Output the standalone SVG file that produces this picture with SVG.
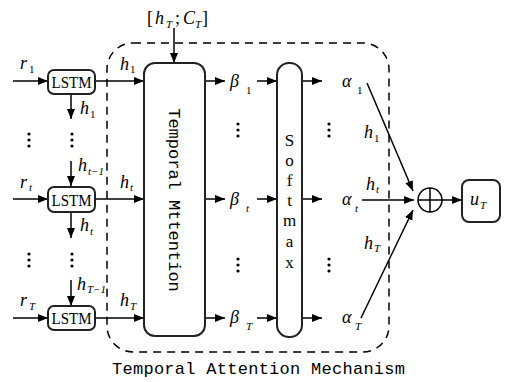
<svg xmlns="http://www.w3.org/2000/svg" width="506" height="382" viewBox="0 0 506 382">
<defs>
<marker id="ah" viewBox="0 0 10 10" refX="10" refY="5" markerWidth="10" markerHeight="10" markerUnits="userSpaceOnUse" orient="auto"><path d="M0,1 L10,5 L0,9 z" fill="#000"/></marker>
<style>
.ln{stroke:#000;stroke-width:1.5;fill:none}
.ar{stroke:#000;stroke-width:1.5;fill:none;marker-end:url(#ah)}
.box{stroke:#222;stroke-width:2;fill:#fff}
.it{font-family:"Liberation Serif",serif;font-style:italic;font-size:18px;fill:#000}
.sb{font-family:"Liberation Serif",serif;font-style:italic;font-size:11px;fill:#000}
.sbn{font-family:"Liberation Serif",serif;font-size:11px;fill:#000}
.lstm{font-family:"Liberation Serif",serif;font-size:16px;fill:#000}
.mono{font-family:"Liberation Mono",monospace;font-size:17px;fill:#000}
.dot{fill:#000}
</style>
</defs>
<rect width="506" height="382" fill="#fff"/>
<g id="frame">
<rect x="107" y="43" width="282" height="309" rx="26" ry="26" fill="none" stroke="#000" stroke-width="1.5" stroke-dasharray="8,6"/>
<text class="mono" x="112" y="374" textLength="293">Temporal Attention Mechanism</text>
</g>
<g id="connectors">
<line class="ar" x1="13" y1="81" x2="48" y2="81"/>
<line class="ar" x1="13" y1="199" x2="48" y2="199"/>
<line class="ar" x1="13" y1="318" x2="48" y2="318"/>
<line class="ar" x1="71" y1="94" x2="71" y2="119"/>
<line class="ar" x1="71" y1="161" x2="71" y2="186"/>
<line class="ar" x1="71" y1="213" x2="71" y2="238"/>
<line class="ar" x1="71" y1="280" x2="71" y2="306"/>
<line class="ar" x1="95" y1="81" x2="144" y2="81"/>
<line class="ar" x1="95" y1="199" x2="144" y2="199"/>
<line class="ar" x1="95" y1="318" x2="144" y2="318"/>
<line class="ar" x1="174" y1="28" x2="174" y2="63"/>
<line class="ar" x1="205" y1="81" x2="225" y2="81"/>
<line class="ar" x1="205" y1="199" x2="225" y2="199"/>
<line class="ar" x1="205" y1="318" x2="225" y2="318"/>
<line class="ar" x1="257" y1="81" x2="277" y2="81"/>
<line class="ar" x1="257" y1="199" x2="277" y2="199"/>
<line class="ar" x1="257" y1="318" x2="277" y2="318"/>
<line class="ar" x1="302" y1="81" x2="322" y2="81"/>
<line class="ar" x1="302" y1="199" x2="322" y2="199"/>
<line class="ar" x1="302" y1="318" x2="322" y2="318"/>
<line class="ar" x1="367" y1="83" x2="413" y2="191"/>
<line class="ar" x1="362" y1="200" x2="414" y2="200"/>
<line class="ar" x1="361" y1="318" x2="413" y2="210"/>
<line class="ar" x1="442" y1="200" x2="462" y2="200"/>
</g>
<g id="dots">
<circle class="dot" cx="29" cy="134" r="1.6"/><circle class="dot" cx="29" cy="140" r="1.6"/><circle class="dot" cx="29" cy="146" r="1.6"/>
<circle class="dot" cx="72" cy="134" r="1.6"/><circle class="dot" cx="72" cy="140" r="1.6"/><circle class="dot" cx="72" cy="146" r="1.6"/>
<circle class="dot" cx="29" cy="254" r="1.6"/><circle class="dot" cx="29" cy="260" r="1.6"/><circle class="dot" cx="29" cy="266" r="1.6"/>
<circle class="dot" cx="72" cy="254" r="1.6"/><circle class="dot" cx="72" cy="260" r="1.6"/><circle class="dot" cx="72" cy="266" r="1.6"/>
<circle class="dot" cx="238" cy="124" r="1.6"/><circle class="dot" cx="238" cy="130" r="1.6"/><circle class="dot" cx="238" cy="136" r="1.6"/>
<circle class="dot" cx="238" cy="259" r="1.6"/><circle class="dot" cx="238" cy="265" r="1.6"/><circle class="dot" cx="238" cy="271" r="1.6"/>
<circle class="dot" cx="329" cy="124" r="1.6"/><circle class="dot" cx="329" cy="130" r="1.6"/><circle class="dot" cx="329" cy="136" r="1.6"/>
<circle class="dot" cx="329" cy="259" r="1.6"/><circle class="dot" cx="329" cy="265" r="1.6"/><circle class="dot" cx="329" cy="271" r="1.6"/>
</g>
<g id="lstm1">
<rect class="box" x="48" y="70" width="47" height="24" rx="6"/>
<text class="lstm" x="51.5" y="88" textLength="40" lengthAdjust="spacingAndGlyphs">LSTM</text>
</g>
<g id="lstm2">
<rect class="box" x="48" y="187" width="47" height="25" rx="6"/>
<text class="lstm" x="51.5" y="205.5" textLength="40" lengthAdjust="spacingAndGlyphs">LSTM</text>
</g>
<g id="lstm3">
<rect class="box" x="48" y="306" width="47" height="24" rx="6"/>
<text class="lstm" x="51.5" y="324" textLength="40" lengthAdjust="spacingAndGlyphs">LSTM</text>
</g>
<g id="temporal-attention">
<rect class="box" x="144" y="63" width="61" height="273" rx="11"/>
<text class="mono" font-size="16" transform="translate(169,200) rotate(90)" text-anchor="middle">Temporal Mttention</text>
</g>
<g id="softmax">
<rect class="box" x="277" y="63" width="25" height="274" rx="12"/>
<g font-family="Liberation Serif,serif" font-size="17" text-anchor="middle">
<text x="289.5" y="146">S</text><text x="289.5" y="166">o</text><text x="289.5" y="186">f</text><text x="289.5" y="206">t</text><text x="289.5" y="226">m</text><text x="289.5" y="247">a</text><text x="289.5" y="268">x</text>
</g>
</g>
<g id="sum">
<circle cx="430" cy="200" r="12" fill="#fff" stroke="#000" stroke-width="1.5"/>
<line class="ln" x1="418" y1="200" x2="442" y2="200"/>
<line class="ln" x1="430" y1="188" x2="430" y2="212"/>
</g>
<g id="uT">
<rect class="box" x="462" y="180" width="38" height="42" rx="7"/>
<text class="it" x="470" y="205">u</text><text class="sb" x="480" y="209">T</text>
</g>
<g id="labels">
<text class="it" x="20" y="69">r</text><text class="sbn" x="29" y="73">1</text>
<text class="it" x="20" y="188">r</text><text class="sb" x="29" y="191">t</text>
<text class="it" x="20" y="306">r</text><text class="sb" x="29" y="310">T</text>
<text class="it" x="80" y="114">h</text><text class="sbn" x="90" y="118">1</text>
<text class="it" x="78" y="171">h</text><text class="sb" x="88" y="175">t−1</text>
<text class="it" x="80" y="231">h</text><text class="sb" x="90" y="235">t</text>
<text class="it" x="77" y="290">h</text><text class="sb" x="87" y="293">T−1</text>
<text class="it" x="120" y="70">h</text><text class="sbn" x="130" y="73">1</text>
<text class="it" x="120" y="188">h</text><text class="sb" x="130" y="191">t</text>
<text class="it" x="120" y="306">h</text><text class="sb" x="130" y="310">T</text>
<text font-family="Liberation Serif,serif" font-size="18" x="147" y="24">[</text>
<text class="it" x="155" y="24">h</text><text class="sb" x="166" y="28">T</text>
<text font-family="Liberation Serif,serif" font-size="18" x="175" y="24">;</text>
<text class="it" x="183" y="24">C</text><text class="sb" x="195" y="28">T</text>
<text font-family="Liberation Serif,serif" font-size="18" x="202" y="24">]</text>
<text class="it" x="230" y="87">β</text><text class="sbn" x="246" y="94">1</text>
<text class="it" x="230" y="205">β</text><text class="sb" x="246" y="212">t</text>
<text class="it" x="230" y="323">β</text><text class="sb" x="246" y="330">T</text>
<text class="it" x="342" y="87">α</text><text class="sbn" x="357" y="94">1</text>
<text class="it" x="342" y="205">α</text><text class="sb" x="355" y="212">t</text>
<text class="it" x="342" y="323">α</text><text class="sb" x="355" y="330">T</text>
<text class="it" x="364" y="138">h</text><text class="sbn" x="374" y="142">1</text>
<text class="it" x="366" y="190">h</text><text class="sb" x="376" y="193">t</text>
<text class="it" x="364" y="249">h</text><text class="sb" x="374" y="252">T</text>
</g>
</svg>
